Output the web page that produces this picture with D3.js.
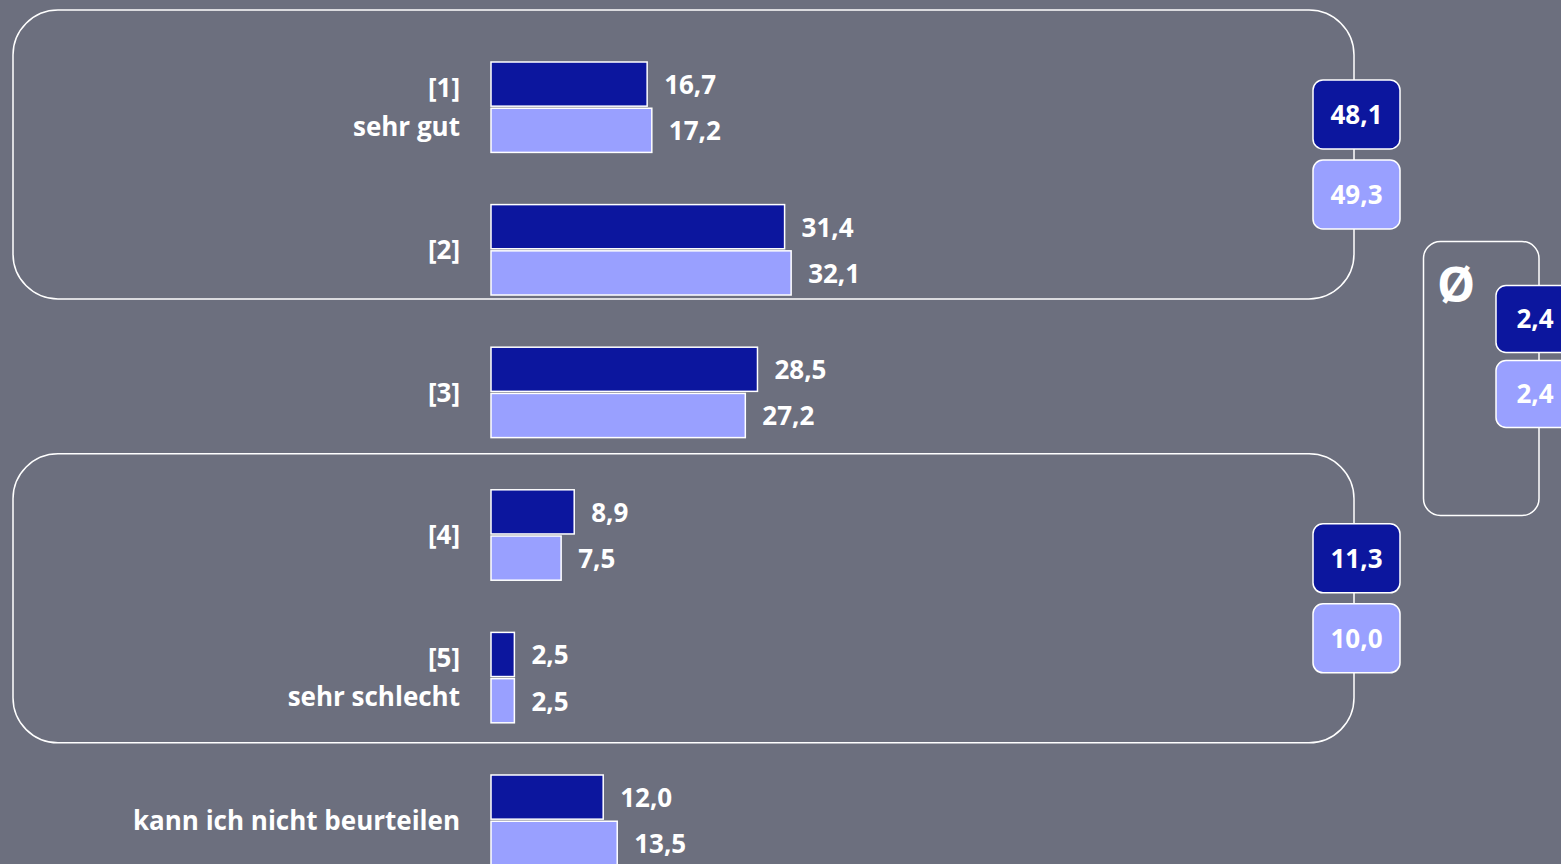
<!DOCTYPE html>
<html>
<head>
<meta charset="utf-8">
<script src="https://cdn.jsdelivr.net/npm/d3@7"></script>
<style>
  html, body { margin: 0; padding: 0; background: #6c6f7e; overflow: hidden; }
  svg { display: block; }
  text { font-family: "Open Sans", Lato, sans-serif; font-weight: 700; fill: #ffffff; }
</style>
</head>
<body>
<svg id="chart" width="1561" height="864"></svg>
<script>
// Rating categories (line breaks split two-line labels)
const categories = ["[1]\nsehr gut", "[2]", "[3]", "[4]", "[5]\nsehr schlecht", "kann ich nicht beurteilen"];
const series = ["a", "b"];
const valuesA = [16.7, 31.4, 28.5, 8.9, 2.5, 12.0];
const valuesB = [17.2, 32.1, 27.2, 7.5, 2.5, 13.5];
// Summaries: top two, bottom two, mean
const topTwo = [48.1, 49.3];
const bottomTwo = [11.3, 10.0];
const meanValues = [2.4, 2.4];

const colors = { a: "#0c169e", b: "#99a0ff" };
const fmt = v => d3.format(".1f")(v).replace(".", ",");
const fontSize = "26px";

const svg = d3.select("#chart");

const x = d3.scaleLinear().domain([0, 100]).range([491, 491 + 935]);
const y = d3.scaleBand().domain(categories).range([62, 865.4]).paddingInner(0.366).paddingOuter(0);
const ySub = d3.scaleBand().domain(series).range([0, y.bandwidth()]).paddingInner(0.045);

const rows = categories.map((c, i) => ({ cat: c, a: valuesA[i], b: valuesB[i] }));

// Grouping frames (top two / bottom two)
const frames = [
  { y0: y(categories[0]) - 52, y1: y(categories[1]) + y.bandwidth() + 4 },
  { y0: y(categories[3]) - 36, y1: y(categories[4]) + y.bandwidth() + 20 }
];
svg.selectAll("rect.frame").data(frames).join("rect")
  .attr("class", "frame")
  .attr("x", 13).attr("width", 1341)
  .attr("y", d => d.y0).attr("height", d => d.y1 - d.y0)
  .attr("rx", 45).attr("ry", 45)
  .attr("fill", "none").attr("stroke", "#ffffff").attr("stroke-width", 1.5);

// Mean frame
svg.append("rect")
  .attr("x", 1423.5).attr("y", 241.5).attr("width", 115.5).attr("height", 274)
  .attr("rx", 17).attr("ry", 17)
  .attr("fill", "none").attr("stroke", "#ffffff").attr("stroke-width", 1.5);
svg.append("text")
  .attr("x", 1456).attr("y", 302)
  .attr("text-anchor", "middle")
  .style("font-size", "48px")
  .text("Ø");

// Bars
const groups = svg.selectAll("g.row").data(rows).join("g")
  .attr("class", "row")
  .attr("transform", d => `translate(0,${y(d.cat)})`);

groups.selectAll("rect.bar")
  .data(d => series.map(s => ({ s, v: d[s] })))
  .join("rect")
  .attr("class", "bar")
  .attr("x", x(0))
  .attr("y", d => ySub(d.s))
  .attr("width", d => x(d.v) - x(0))
  .attr("height", ySub.bandwidth())
  .attr("fill", d => colors[d.s])
  .attr("stroke", "#ffffff")
  .attr("stroke-width", 1.5);

groups.selectAll("text.val")
  .data(d => series.map(s => ({ s, v: d[s] })))
  .join("text")
  .attr("class", "val")
  .attr("x", d => x(d.v) + 17)
  .attr("y", d => ySub(d.s) + ySub.bandwidth() / 2)
  .attr("dy", "0.38em")
  .style("font-size", fontSize)
  .text(d => fmt(d.v));

// Category labels
groups.each(function (d) {
  const lines = d.cat.split("\n");
  const cy = y.bandwidth() / 2;
  const lh = 39;
  const t = d3.select(this).append("text")
    .attr("text-anchor", "end")
    .style("font-size", fontSize);
  lines.forEach((ln, i) => {
    t.append("tspan")
      .attr("x", 460)
      .attr("y", cy + (i - (lines.length - 1) / 2) * lh)
      .attr("dy", "0.36em")
      .text(ln);
  });
});

// Summary boxes
function summaryBoxes(vals, cx, centerY, h, gap, tx) {
  const data = vals.map((v, i) => ({ v, s: series[i], cy: centerY + (i - 0.5) * (h + gap) }));
  const g = svg.append("g");
  g.selectAll("rect").data(data).join("rect")
    .attr("x", cx - 43.5).attr("width", 87)
    .attr("y", d => d.cy - h / 2).attr("height", h)
    .attr("rx", 10).attr("ry", 10)
    .attr("fill", d => colors[d.s])
    .attr("stroke", "#ffffff").attr("stroke-width", 1.5);
  g.selectAll("text").data(data).join("text")
    .attr("x", tx).attr("y", d => d.cy)
    .attr("dy", "0.36em")
    .attr("text-anchor", "middle")
    .style("font-size", fontSize)
    .text(d => fmt(d.v));
}
summaryBoxes(topTwo, 1356.5, (frames[0].y0 + frames[0].y1) / 2, 69, 11, 1356.5);
summaryBoxes(bottomTwo, 1356.5, (frames[1].y0 + frames[1].y1) / 2, 69, 11, 1356.5);
summaryBoxes(meanValues, 1539.5, 356.5, 67, 8, 1535);
</script>
</body>
</html>
